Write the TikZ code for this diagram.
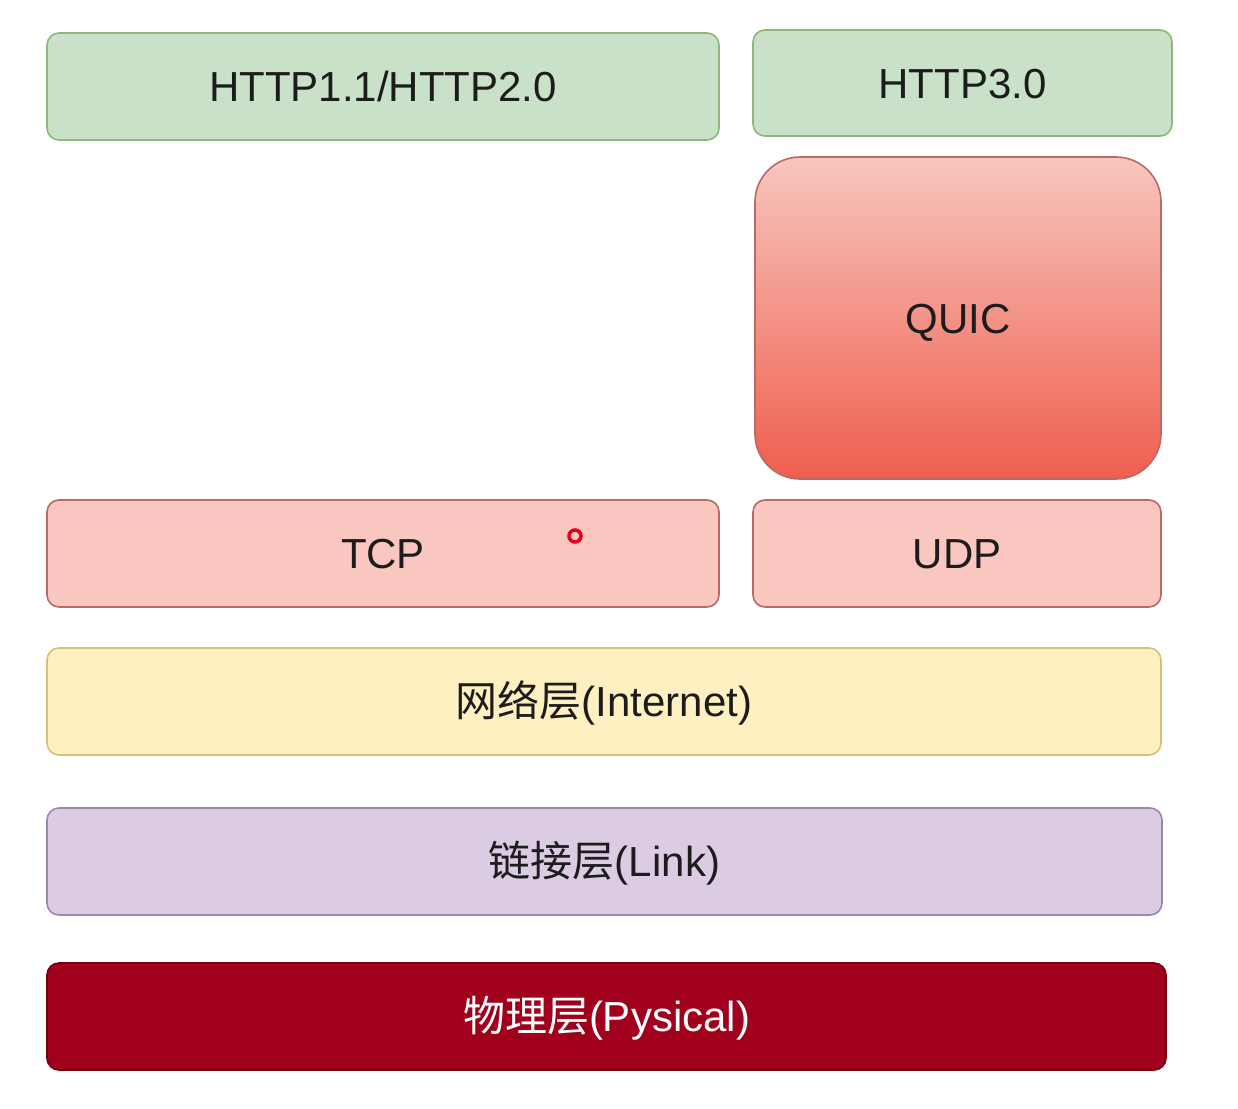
\documentclass[tikz,border=0pt]{standalone}
\usepackage{fontspec}
\setmainfont{Liberation Sans}
\newfontfamily\cjk{Noto Sans CJK SC}
\definecolor{gfill}{HTML}{C9E0C9}
\definecolor{gdraw}{HTML}{8FB77A}
\definecolor{rfill}{HTML}{F9C6C0}
\definecolor{rdraw}{HTML}{B86A66}
\definecolor{qtop}{HTML}{F8C6BE}
\definecolor{qbot}{HTML}{EF5E4E}
\definecolor{yfill}{HTML}{FFF0C2}
\definecolor{ydraw}{HTML}{D8C27A}
\definecolor{pfill}{HTML}{DCCCE3}
\definecolor{pdraw}{HTML}{9C86AE}
\definecolor{dfill}{HTML}{A0001B}
\definecolor{ddraw}{HTML}{6E0010}
\definecolor{txt}{HTML}{1C1C1C}
\definecolor{dot}{HTML}{E0001A}
\begin{document}
\begin{tikzpicture}[x=1pt,y=-1pt,
  layer/.style={draw, rounded corners=12pt, line width=1.6pt, inner sep=0pt,
    text height=30pt, text depth=0pt,
    text=txt, font=\fontsize{42}{50}\selectfont},
  green/.style={layer, fill=gfill, draw=gdraw},
  pink/.style={layer, fill=rfill, draw=rdraw},
  yellowbox/.style={layer, fill=yfill, draw=ydraw},
  purplebox/.style={layer, fill=pfill, draw=pdraw},
  darkbox/.style={layer, fill=dfill, draw=ddraw, text=white}]
\useasboundingbox[fill=white] (0,0) rectangle (1238,1108);
\node[green, minimum width=672pt, minimum height=107pt] (http12) at (383,86.5) {HTTP1.1/HTTP2.0};
\node[green, minimum width=419pt, minimum height=106pt] (http3) at (962.5,83) {HTTP3.0};
\node[layer, draw=rdraw, top color=qtop, bottom color=qbot, rounded corners=45pt,
  minimum width=406pt, minimum height=322pt] (quic) at (958,318) {QUIC};
\node[pink, minimum width=672pt, minimum height=107pt] (tcp) at (383,553.5) {TCP};
\node[pink, minimum width=408pt, minimum height=107pt] (udp) at (957,553.5) {UDP};
\node[yellowbox, minimum width=1114pt, minimum height=107pt] (net) at (604,701.5) {{\cjk 网络层}(Internet)};
\node[purplebox, minimum width=1115pt, minimum height=107pt] (link) at (604.5,861.5) {{\cjk 链接层}(Link)};
\node[darkbox, minimum width=1119pt, minimum height=107pt] (phys) at (606.5,1016.5) {{\cjk 物理层}(Pysical)};
\node[circle, draw=dot, line width=3.5pt, minimum size=12pt, inner sep=0pt] (cursor) at (575,536) {};
\end{tikzpicture}
\end{document}
